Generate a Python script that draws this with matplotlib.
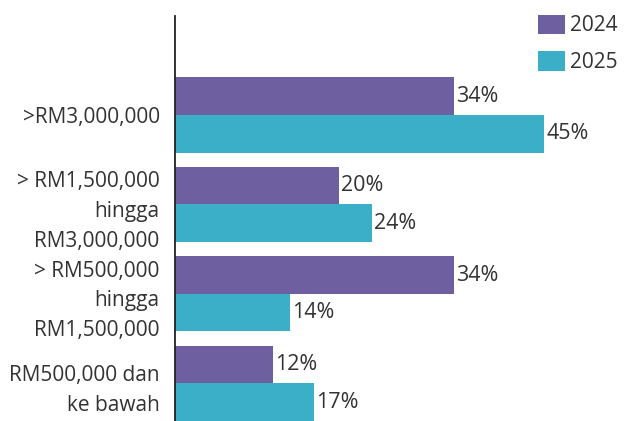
import matplotlib
matplotlib.use("Agg")
import matplotlib.pyplot as plt
import numpy as np

# data
categories = [">RM3,000,000",
              "> RM1,500,000\nhingga\nRM3,000,000",
              "> RM500,000\nhingga\nRM1,500,000",
              "RM500,000 dan\nke bawah"]
vals_2024 = [34, 20, 34, 12]
vals_2025 = [45, 24, 14, 17]
series_names = ["2024", "2025"]

C24 = "#6E60A0"
C25 = "#3BAEC8"
TXT = "#333333"

plt.rcParams["font.family"] = ["Open Sans", "DejaVu Sans"]

fig = plt.figure(figsize=(6.38, 4.21), dpi=100)
ax = fig.add_axes([175 / 638, 0, 410 / 638, 405 / 421])

y = np.arange(len(categories))
h = 0.42
b1 = ax.barh(y - h / 2, vals_2024, height=h, color=C24, label=series_names[0])
b2 = ax.barh(y + h / 2, vals_2025, height=h, color=C25, label=series_names[1])

for bars, vals in [(b1, vals_2024), (b2, vals_2025)]:
    for bar, v in zip(bars, vals):
        ax.annotate(f"{v}%", xy=(bar.get_width(), bar.get_y() + bar.get_height() / 2),
                    xytext=(1.5, 0), textcoords="offset points", va="center", ha="left",
                    fontsize=15.5, color=TXT, annotation_clip=False)

ax.set_xlim(0, 50)
ax.set_ylim(3 + h, 3 + h - 405 / 89.5)
ax.set_yticks(y)
ax.set_yticklabels(categories, fontsize=15, color=TXT)
for lab in ax.get_yticklabels():
    lab.set_multialignment("right")
    lab.set_linespacing(1.55)
ax.tick_params(axis="y", length=0, pad=11)
ax.set_xticks([])
for s in ["top", "right", "bottom"]:
    ax.spines[s].set_visible(False)
ax.spines["left"].set_color("#222222")
ax.spines["left"].set_linewidth(1.3)

leg = fig.legend(handles=[b1, b2], loc="upper left", bbox_to_anchor=(523 / 638, 1.0),
                 frameon=False, fontsize=15, handlelength=1.3, handleheight=1.05,
                 labelspacing=0.72, handletextpad=0.25, borderaxespad=0.3)
for t in leg.get_texts():
    t.set_color(TXT)

fig.savefig("out.png", dpi=100, facecolor="white")
